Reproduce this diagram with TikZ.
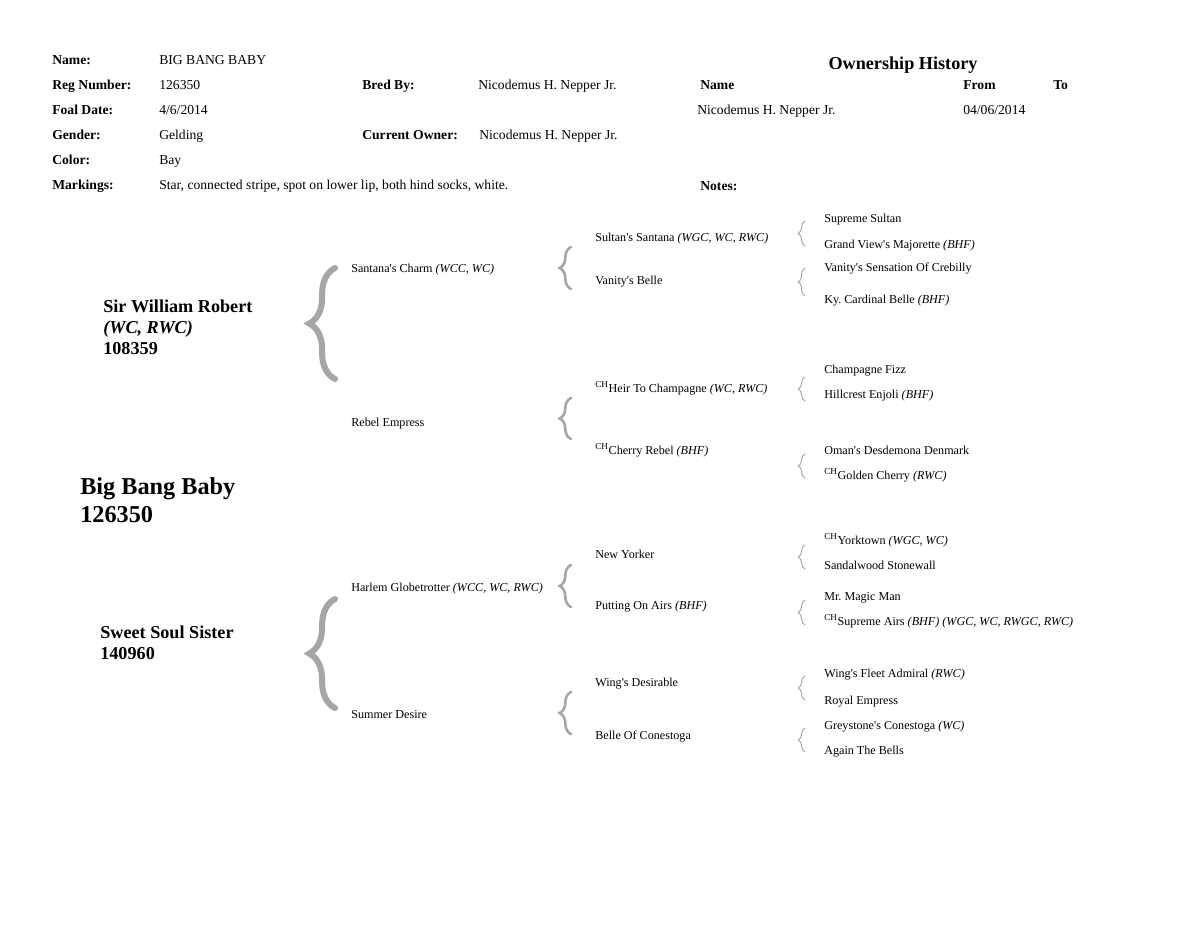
\documentclass[tikz,border=0pt]{standalone}
\usepackage{fontspec}
\setmainfont{Liberation Serif}[Ligatures=TeXOff]
\usetikzlibrary{decorations.pathreplacing}
\frenchspacing
\newcommand{\champ}{\textsuperscript{CH}}
\tikzset{
  lbl/.style={font=\fontsize{9}{11}\selectfont\bfseries, anchor=base west, inner sep=0pt},
  txt/.style={font=\fontsize{9}{11}\selectfont, anchor=base west, inner sep=0pt},
  horse/.style={font=\fontsize{8}{10}\selectfont, anchor=base west, inner sep=0pt},
  namebig/.style={font=\fontsize{16}{18}\selectfont\bfseries, anchor=base west, inner sep=0pt},
  namemid/.style={font=\fontsize{12}{14}\selectfont\bfseries, anchor=base west, inner sep=0pt},
  bracebig/.style={draw=gray!70, line width=4pt, line cap=round,
    decorate, decoration={brace, amplitude=17pt}},
  bracemid/.style={draw=gray!70, line width=1.7pt, line cap=round,
    decorate, decoration={brace, amplitude=7.5pt}},
  bracesmall/.style={draw=gray!75, line width=0.6pt, line cap=round,
    decorate, decoration={brace, amplitude=4.5pt}}
}
\begin{document}
\begin{tikzpicture}[x=0.66pt, y=-0.66pt]
  \useasboundingbox (0,0) rectangle (1200,928);
  % Header: horse data
  \node[lbl] (nm)    at (52,64)  {Name:};
  \node[txt] (nmv)   at (159,64) {BIG BANG BABY};
  \node[lbl] (reg)   at (52,89)  {Reg Number:};
  \node[txt] (regv)  at (159,89) {126350};
  \node[lbl] (bred)  at (362,89) {Bred By:};
  \node[txt] (bredv) at (478,89) {Nicodemus H. Nepper Jr.};
  \node[lbl] (foal)  at (52,114) {Foal Date:};
  \node[txt] (foalv) at (159,114) {4/6/2014};
  \node[lbl] (gen)   at (52,139) {Gender:};
  \node[txt] (genv)  at (159,139) {Gelding};
  \node[lbl] (cur)   at (362,139) {Current Owner:};
  \node[txt] (curv)  at (479,139) {Nicodemus H. Nepper Jr.};
  \node[lbl] (col)   at (52,164) {Color:};
  \node[txt] (colv)  at (159,164) {Bay};
  \node[lbl] (mark)  at (52,189) {Markings:};
  \node[txt] (markv) at (159,189) {Star, connected stripe, spot on lower lip, both hind socks, white.};
  % Header: ownership history
  \node[font=\fontsize{12}{14}\selectfont\bfseries, anchor=base, inner sep=0pt] (own) at (903,69) {Ownership History};
  \node[lbl] (ownname) at (700,89) {Name};
  \node[lbl] (ownfrom) at (963,89) {From};
  \node[lbl] (ownto)   at (1053,89) {To};
  \node[txt] (owner1)  at (697,114) {Nicodemus H. Nepper Jr.};
  \node[txt] (from1)   at (963,114) {04/06/2014};
  \node[lbl] (notes)   at (700,190) {Notes:};
  % Pedigree: subject, sire and dam
  \node[namebig] (subj)  at (80,494) {Big Bang Baby};
  \node[namebig] (subjr) at (80,522) {126350};
  \node[namemid] (sire)  at (103,312) {Sir William Robert};
  \node[namemid] (sirea) at (103,333) {\textit{(WC, RWC)}};
  \node[namemid] (siren) at (103,354) {108359};
  \node[namemid] (dam)   at (100,638) {Sweet Soul Sister};
  \node[namemid] (damn)  at (100,659) {140960};
  % Parents
  \node[horse] (p1) at (351,272) {Santana's Charm \textit{(WCC, WC)}};
  \node[horse] (p2) at (351,426) {Rebel Empress};
  \node[horse] (p3) at (351,591) {Harlem Globetrotter \textit{(WCC, WC, RWC)}};
  \node[horse] (p4) at (351,718) {Summer Desire};
  % Grandparents
  \foreach \y/\t [count=\i] in {241/{Sultan's Santana \textit{(WGC, WC, RWC)}},
      284/{Vanity's Belle}, 392/{\champ Heir To Champagne \textit{(WC, RWC)}},
      454/{\champ Cherry Rebel \textit{(BHF)}}, 558/{New Yorker},
      609/{Putting On Airs \textit{(BHF)}}, 686/{Wing's Desirable},
      739/{Belle Of Conestoga}}
    \node[horse] (g\i) at (595,\y) {\t};
  % Great-grandparents
  \foreach \y/\t [count=\i] in {222/{Supreme Sultan},
      248/{Grand View's Majorette \textit{(BHF)}},
      271/{Vanity's Sensation Of Crebilly}, 303/{Ky. Cardinal Belle \textit{(BHF)}},
      373/{Champagne Fizz}, 398/{Hillcrest Enjoli \textit{(BHF)}},
      454/{Oman's Desdemona Denmark}, 479/{\champ Golden Cherry \textit{(RWC)}},
      544/{\champ Yorktown \textit{(WGC, WC)}}, 569/{Sandalwood Stonewall},
      600/{Mr. Magic Man}, 625/{\champ Supreme Airs \textit{(BHF) (WGC, WC, RWGC, RWC)}},
      677/{Wing's Fleet Admiral \textit{(RWC)}}, 704/{Royal Empress},
      729/{Greystone's Conestoga \textit{(WC)}}, 754/{Again The Bells}}
    \node[horse] (gg\i) at (824,\y) {\t};
  % Braces
  \foreach \t/\b in {268/379, 599/708}
    \draw[bracebig] (335,\b) -- (335,\t);
  \foreach \t/\b in {247/289, 398/439, 565/607, 692/734}
    \draw[bracemid] (571,\b) -- (571,\t);
  \foreach \t/\b in {221/246, 268/296, 377/401, 454/478,
                     545/569, 600/625, 676/700, 728/752}
    \draw[bracesmall] (805,\b) -- (805,\t);
\end{tikzpicture}
\end{document}
